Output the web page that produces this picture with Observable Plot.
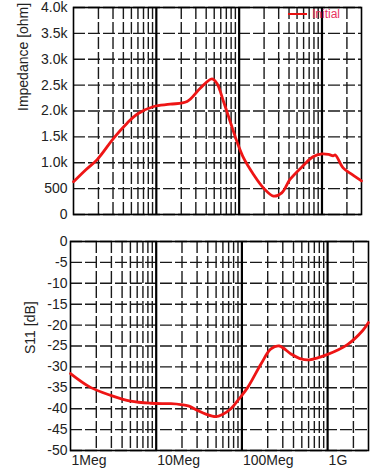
<!DOCTYPE html>
<html>
<head>
<meta charset="utf-8">
<script src="https://cdn.jsdelivr.net/npm/d3@7"></script>
<script src="https://cdn.jsdelivr.net/npm/@observablehq/plot@0.6"></script>
<style>
  html, body { margin: 0; padding: 0; background: #fff; }
  #wrap { position: relative; width: 386px; height: 473px; overflow: hidden; font-family: "Liberation Sans", Arial, sans-serif; }
  #wrap svg { display: block; overflow: visible; }
  #legend { position: absolute; left: 288px; top: 7px; font-size: 12px; color: #e8335f; display: flex; align-items: center; }
  #legend .sw { width: 19px; height: 2.5px; background: #e81010; margin-right: 5px; }
</style>
</head>
<body>
<div id="wrap"><div id="topChart"></div><div id="botChart"></div><div id="legend"><span class="sw"></span>Initial</div></div>
<script>
// ---- data ----
const impFreq = [1e6, 1.4e6, 1.93e6, 3.06e6, 4.44e6, 5.85e6, 9.3e6, 1.47e7, 2.35e7, 3.39e7, 4.69e7, 5.38e7, 6.47e7, 7.79e7, 9.38e7, 1.13e8, 1.49e8, 1.96e8, 2.59e8, 3.27e8, 4.11e8, 5.9e8, 7.8e8, 1e9, 1.2e9, 1.36e9, 1.45e9, 1.8e9, 2.3e9, 3e9];
const impVal  = [631, 860, 1061, 1477, 1765, 1938, 2087, 2131, 2183, 2440, 2620, 2535, 2183, 1798, 1413, 1092, 773, 515, 356, 419, 677, 940, 1115, 1170, 1160, 1135, 1150, 900, 775, 650];
const s11Freq = [1e6, 1.71e6, 2.94e6, 5.04e6, 8.6e6, 1.48e7, 1.93e7, 2.42e7, 3.03e7, 3.8e7, 4.96e7, 6e7, 7.43e7, 9.3e7, 1.17e8, 1.67e8, 2.18e8, 2.73e8, 3.74e8, 4.9e8, 6.12e8, 1e9, 1.72e9, 2.57e9, 3e9];
const s11Val  = [-31.6, -34.9, -36.8, -38.2, -38.7, -38.8, -39.0, -39.4, -40.4, -41.3, -41.9, -41.3, -40.0, -37.6, -34.9, -29.3, -25.7, -25.0, -26.9, -28.1, -28.3, -27.0, -24.6, -21.3, -19.4];
const decades = [1e6, 1e7, 1e8, 1e9];
const decadeLabels = ["1Meg", "10Meg", "100Meg", "1G"];
const impTicks = [0, 500, 1000, 1500, 2000, 2500, 3000, 3500, 4000];
const impTickLabels = ["0", "500", "1.0k", "1.5k", "2.0k", "2.5k", "3.0k", "3.5k", "4.0k"];
const s11Ticks = [0, -5, -10, -15, -20, -25, -30, -35, -40, -45, -50];

const minors = decades.flatMap(d => [2,3,4,5,6,7,8,9].map(m => m * d)).filter(v => v < 3e9);
const imp = impFreq.map((f, i) => ({f, v: impVal[i]}));
const s11 = s11Freq.map((f, i) => ({f, v: s11Val[i]}));
const red = "#ee1515";
const font = "Liberation Sans, Arial, sans-serif";

function gridMarks(yTicks) {
  return [
    Plot.ruleY(yTicks, {stroke: "#1a1a1a", strokeWidth: 1.4, strokeDasharray: "12,3"}),
    Plot.ruleX(minors, {stroke: "#1a1a1a", strokeWidth: 1.4, strokeDasharray: "12,3"}),
    Plot.ruleX(decades.slice(1), {stroke: "#000", strokeWidth: 2.2}),
  ];
}

const topPlot = Plot.plot({
  width: 386, height: 225,
  marginLeft: 73, marginRight: 25, marginTop: 7, marginBottom: 11,
  style: {fontFamily: font, fontSize: "14px", color: "#222", background: "#fff"},
  x: {type: "log", domain: [1e6, 3e9], axis: null},
  y: {domain: [0, 4000], ticks: impTicks, tickFormat: (d) => impTickLabels[impTicks.indexOf(d)], tickSize: 0, tickPadding: 6, label: null},
  marks: [
    ...gridMarks(impTicks),
    Plot.frame({stroke: "#000", strokeWidth: 1.6}),
    Plot.line(imp, {x: "f", y: "v", stroke: red, strokeWidth: 2.8, curve: "catmull-rom"}),
    Plot.text(["Impedance [ohm]"], {frameAnchor: "left", dx: -50, rotate: -90, fontSize: 14, fill: "#222"})
  ]
});
document.getElementById("topChart").appendChild(topPlot);

const botPlot = Plot.plot({
  width: 386, height: 248,
  marginLeft: 70, marginRight: 18, marginTop: 16, marginBottom: 23,
  style: {fontFamily: font, fontSize: "14px", color: "#222", background: "#fff"},
  x: {type: "log", domain: [1e6, 3e9], axis: null},
  y: {domain: [-50, 0], ticks: s11Ticks, tickSize: 0, tickPadding: 3, label: null, tickFormat: d => String(d)},
  marks: [
    ...gridMarks(s11Ticks),
    Plot.frame({stroke: "#000", strokeWidth: 1.6}),
    Plot.axisX(decades, {tickFormat: (d) => decadeLabels[decades.indexOf(d)], tickSize: 0, tickPadding: 5, textAnchor: "start", dx: 1, fontSize: 14, label: null}),
    Plot.line(s11, {x: "f", y: "v", stroke: red, strokeWidth: 2.8, curve: "catmull-rom"}),
    Plot.text(["S11 [dB]"], {frameAnchor: "left", dx: -40, dy: 8, rotate: -90, fontSize: 14, fill: "#222"})
  ]
});
document.getElementById("botChart").appendChild(botPlot);
</script>
</body>
</html>
